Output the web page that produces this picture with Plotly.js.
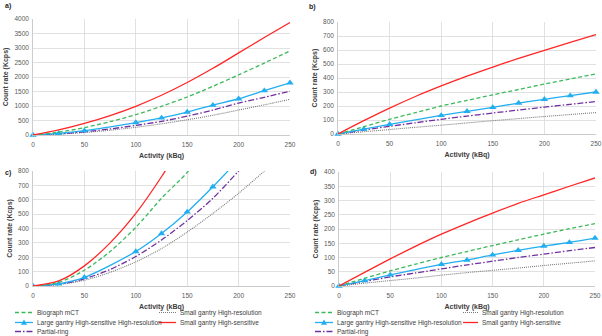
<!DOCTYPE html>
<html><head><meta charset="utf-8">
<script src="https://cdn.plot.ly/plotly-3.0.1.min.js"></script>
<style>html,body{margin:0;padding:0;background:#fff}#chart{width:602px;height:336px}</style>
</head><body><div id="chart"></div>
<script>
// ---------- data ----------
const activity = [0,25,50,75,100,125,150,175,200,225,250];
const activityMarked = [0,25,50,100,125,150,175,200,225,250];
const seriesNames = ["Biograph mCT","Small gantry High-resolution","Large gantry High-sensitive High-resolution","Small gantry High-sensitive","Partial-ring"];
const panelLabels = ["a)","b)","c)","d)"];
const xTitle = "Activity (kBq)";
const yTitle = "Count rate (Kcps)";

// panel a
const aBiograph = [0,100,255,460,700,990,1310,1680,2075,2480,2900];
const aSmallHR  = [0,30,85,165,265,385,525,680,860,1040,1230];
const aLarge    = [0,55,150,430,590,790,1030,1250,1530,1800];
const aSmallHS  = [0,175,400,670,990,1370,1810,2300,2830,3360,3880];
const aPartial  = [0,40,110,210,330,470,650,860,1100,1300,1510];
// panel b
const bBiograph = [0,52,105,152,200,240,280,318,357,393,429];
const bSmallHR  = [0,16,32,48,63,79,95,110,125,139,153];
const bLarge    = [0,35,69,133,162,190,221,248,274,300];
const bSmallHS  = [0,95,185,268,343,413,478,540,598,655,710];
const bPartial  = [0,28,55,80,105,128,150,171,192,212,232];
// panel c (curves leave the 0-800 window)
const cBiograph = [0,25,110,240,408,610,790,1020];
const cSmallHR  = [0,10,40,95,168,260,375,505,645,800,970];
const cLarge    = [0,15,60,240,365,515,690,880];
const cSmallHS  = [0,35,140,300,505,760,1050];
const cPartial  = [0,12,50,115,205,320,455,610,800,1000];
// panel d
const dBiograph = [0,27,53,77,100,121,142,162,182,201,219];
const dSmallHR  = [0,10,19,28,38,47,55,63,72,80,88];
const dLarge    = [0,19,39,76,91,109,125,140,153,168];
const dSmallHS  = [0,48,95,140,182,220,256,290,320,350,379];
const dPartial  = [0,16,32,46,60,74,87,100,112,124,135];

const yRanges = [[0,4000],[0,800],[0,800],[0,400]];
const yDticks = [500,100,100,50];

// ---------- styles ----------
const W = 602, H = 336;
const px = x => x / W;
const py = y => 1 - y / H;
const styles = [
  {color:'#3cb95a', width:1.3, dash:'4px,2.5px'},
  {color:'#7a7a7a', width:1.1, dash:'1px,1px'},
  {color:'#22aef0', width:1.3, dash:'solid'},
  {color:'#ff2626', width:1.3, dash:'solid'},
  {color:'#7030a0', width:1.3, dash:'6px,2px,1.5px,2px'}
];
const panels = [
  {vals:[aBiograph,aSmallHR,aLarge,aSmallHS,aPartial], dx:[33,290], dy:[135,19], clip:false},
  {vals:[bBiograph,bSmallHR,bLarge,bSmallHS,bPartial], dx:[338,596], dy:[134,22], clip:false},
  {vals:[cBiograph,cSmallHR,cLarge,cSmallHS,cPartial], dx:[33,290], dy:[286,171], clip:true},
  {vals:[dBiograph,dSmallHR,dLarge,dSmallHS,dPartial], dx:[339,595], dy:[286,172], clip:false}
];
const drawOrder = [1,4,2,0,3];

const traces = [];
const layout = {
  width:W, height:H, margin:{l:0,r:0,t:0,b:0},
  paper_bgcolor:'#ffffff', plot_bgcolor:'#ffffff',
  font:{family:'Liberation Sans, Arial, sans-serif', color:'#404040', size:7},
  showlegend:false, annotations:[], shapes:[]
};

panels.forEach((p, i) => {
  const sfx = i === 0 ? '' : String(i + 1);
  drawOrder.forEach(k => {
    const y = p.vals[k];
    const xs = (k === 2 ? activityMarked : activity).slice(0, y.length);
    const st = styles[k];
    const t = {
      type:'scatter', x:xs, y:y, name:seriesNames[k],
      xaxis:'x' + sfx, yaxis:'y' + sfx,
      mode: k === 2 ? 'lines+markers' : 'lines',
      line:{color:st.color, width:st.width, dash:st.dash, shape:'spline', smoothing:0.8},
      cliponaxis: p.clip, hoverinfo:'skip'
    };
    if (k === 2) t.marker = {symbol:'triangle-up', size:6.5, color:st.color};
    traces.push(t);
  });
  const axCommon = {
    showgrid:true, gridcolor:'#d9d9d9', gridwidth:0.8, zeroline:false,
    showline:true, linecolor:'#bfbfbf', linewidth:0.8, ticks:'',
    tickfont:{size:6.5, color:'#595959'}, fixedrange:true
  };
  layout['xaxis' + sfx] = Object.assign({}, axCommon, {
    domain:[px(p.dx[0]), px(p.dx[1])], range:[0,250], dtick:50, tick0:0,
    anchor:'y' + sfx, ticklabelstandoff:3,
    title:{text:xTitle, font:{size:7, weight:'bold', color:'#404040'}, standoff:6}
  });
  layout['yaxis' + sfx] = Object.assign({}, axCommon, {
    domain:[py(p.dy[0]), py(p.dy[1])], range:yRanges[i], dtick:yDticks[i], tick0:0,
    anchor:'x' + sfx, ticklabelstandoff:2,
    title:{text:yTitle, font:{size:7, weight:'bold', color:'#404040'}, standoff:4}
  });
});

// panel labels
const labelPos = [[3,6],[307,7],[3,173],[308,172]];
panelLabels.forEach((t, i) => {
  layout.annotations.push({text:'<b>' + t + '</b>', xref:'paper', yref:'paper',
    x:px(labelPos[i][0]), y:py(labelPos[i][1]), xanchor:'left', yanchor:'middle',
    showarrow:false, font:{size:7, color:'#262626'}});
});

// manual legends under panels c and d
const legendSpecs = [
  {cols:[[15,33,35],[159,176,178]], rows:[312.5,322.5,331.5]},
  {cols:[[315,333,335],[463,478,480]], rows:[312.5,322.5,331.5]}
];
const legendSlots = [[0,0],[1,0],[0,1],[1,1],[0,2]]; // [col,row] for each series
legendSpecs.forEach(spec => {
  seriesNames.forEach((name, k) => {
    const [c, r] = legendSlots[k];
    const [x0, x1, xt] = spec.cols[c];
    const yy = spec.rows[r];
    const st = styles[k];
    layout.shapes.push({type:'line', xref:'paper', yref:'paper',
      x0:px(x0), x1:px(x1), y0:py(yy), y1:py(yy),
      line:{color:st.color, width:st.width, dash:st.dash}});
    if (k === 2) {
      const xm = (x0 + x1) / 2;
      layout.shapes.push({type:'path', xref:'paper', yref:'paper',
        path:`M ${px(xm-3)} ${py(yy+2.2)} L ${px(xm+3)} ${py(yy+2.2)} L ${px(xm)} ${py(yy-3)} Z`,
        fillcolor:st.color, line:{width:0}});
    }
    layout.annotations.push({text:name, xref:'paper', yref:'paper',
      x:px(xt), y:py(yy), xanchor:'left', yanchor:'middle', showarrow:false,
      font:{size:6.5, color:'#404040'}});
  });
});

Plotly.newPlot('chart', traces, layout, {staticPlot:true, displayModeBar:false});
</script>
</body></html>
